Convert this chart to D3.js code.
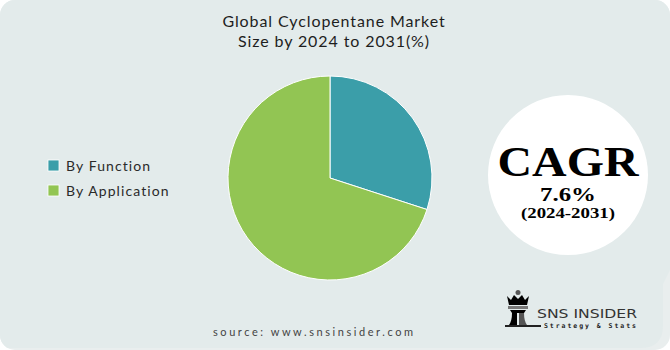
<!DOCTYPE html>
<html>
<head>
<meta charset="utf-8">
<script src="https://cdn.jsdelivr.net/npm/d3@7"></script>
<style>
  html, body { margin: 0; padding: 0; background: #fff; }
  svg { display: block; }
</style>
</head>
<body>
<svg id="chart" width="670" height="350"></svg>
<script>
const categories = ["By Function", "By Application"];
const shares = [30, 70];
const colors = ["#3b9ea9", "#92c553"];
const titleLines = ["Global Cyclopentane Market", "Size by 2024 to 2031(%)"];
const cagrLines = ["CAGR", "7.6%", "(2024-2031)"];
const sourceText = "source: www.snsinsider.com";

const width = 670;
const height = 350;
const svg = d3.select("#chart");

// background card
svg.append("clipPath").attr("id", "card")
  .append("rect").attr("width", width).attr("height", height).attr("rx", 15);

const bg = svg.append("g").attr("clip-path", "url(#card)");
bg.append("rect").attr("width", width).attr("height", height).attr("fill", "#e9eeee");
bg.append("path")
  .attr("d", "M0,0 H670 V270 L663,284 V326 Q663,348 640,348 H0 Z")
  .attr("fill", "#e3ebeb");

// title
svg.append("text")
  .attr("x", 334).attr("text-anchor", "middle")
  .attr("font-family", "Lato, sans-serif").attr("font-size", 16)
  .attr("fill", "#1e1e1e").attr("letter-spacing", 0.9)
  .selectAll("tspan").data(titleLines).join("tspan")
  .attr("x", 334).attr("y", (d, i) => 27 + i * 20)
  .text(d => d);

// pie
const pie = d3.pie().sort(null).value(d => d);
const arc = d3.arc().innerRadius(0).outerRadius(102);
svg.append("g")
  .attr("transform", "translate(330,178)")
  .selectAll("path")
  .data(pie(shares))
  .join("path")
  .attr("d", arc)
  .attr("fill", (d, i) => colors[i])
  .attr("stroke", "#fff")
  .attr("stroke-width", 1);

// legend
const legend = svg.append("g").attr("transform", "translate(48,160)");
const item = legend.selectAll("g").data(categories).join("g")
  .attr("transform", (d, i) => `translate(0,${i * 25})`);
item.append("rect")
  .attr("width", 11).attr("height", 11)
  .attr("fill", (d, i) => colors[i])
  .attr("stroke", "#fff").attr("stroke-width", 0.8);
item.append("text")
  .attr("x", 18).attr("y", 10.5)
  .attr("font-family", "Lato, sans-serif").attr("font-size", 14)
  .attr("letter-spacing", 1.1)
  .attr("fill", "#2a2a2a")
  .text(d => d);

// CAGR badge
const badge = svg.append("g").attr("transform", "translate(568,175)");
badge.append("circle").attr("r", 80).attr("fill", "#ffffff");
const cagrStyle = [
  { y: 1, size: 42, len: 141 },
  { y: 26, size: 19, len: 56 },
  { y: 43, size: 14, len: 94 }
];
badge.selectAll("text").data(cagrLines).join("text")
  .attr("text-anchor", "middle")
  .attr("y", (d, i) => cagrStyle[i].y)
  .attr("font-family", "'Liberation Serif', 'DejaVu Serif', serif")
  .attr("font-weight", "bold")
  .attr("font-size", (d, i) => cagrStyle[i].size)
  .attr("textLength", (d, i) => cagrStyle[i].len)
  .attr("lengthAdjust", "spacingAndGlyphs")
  .attr("fill", "#000")
  .text(d => d);

// source
svg.append("text")
  .attr("x", 313).attr("y", 336)
  .attr("text-anchor", "middle")
  .attr("font-family", "Lato, sans-serif").attr("font-size", 11)
  .attr("fill", "#444")
  .attr("textLength", 200)
  .text(sourceText);

// logo
const logo = svg.append("g").attr("transform", "translate(505,290)");
logo.append("circle").attr("cx", 13).attr("cy", 2.5).attr("r", 2.5).attr("fill", "#555");
logo.append("path")
  .attr("d", "M2,6 L6,10 L9,5 L13,9 L17,5 L20,10 L24,6 L22,15 H4 Z")
  .attr("fill", "#000");
logo.append("rect").attr("x", 3).attr("y", 16).attr("width", 20).attr("height", 3).attr("fill", "#777");
logo.append("path")
  .attr("d", "M5,20 H21 L19,23 H7 Z")
  .attr("fill", "#000");
logo.append("path")
  .attr("d", "M7,23 H12 V35 H4 Q7,31 7,23 Z")
  .attr("fill", "#000");
logo.append("path")
  .attr("d", "M14,23 H19 Q19,31 22,35 H14 Z")
  .attr("fill", "#555");
logo.append("rect").attr("x", 0).attr("y", 35).attr("width", 36).attr("height", 2).attr("fill", "#222");

svg.append("text")
  .attr("x", 537).attr("y", 318)
  .attr("font-family", "'DejaVu Sans', sans-serif").attr("font-size", 12)
  .attr("fill", "#333")
  .attr("textLength", 100).attr("lengthAdjust", "spacingAndGlyphs")
  .text("SNS INSIDER");
svg.append("text")
  .attr("x", 544).attr("y", 328)
  .attr("font-family", "'DejaVu Sans Mono', monospace").attr("font-size", 6.5)
  .attr("font-weight", "bold")
  .attr("fill", "#222")
  .attr("textLength", 92)
  .text("Strategy & Stats");
</script>
</body>
</html>
